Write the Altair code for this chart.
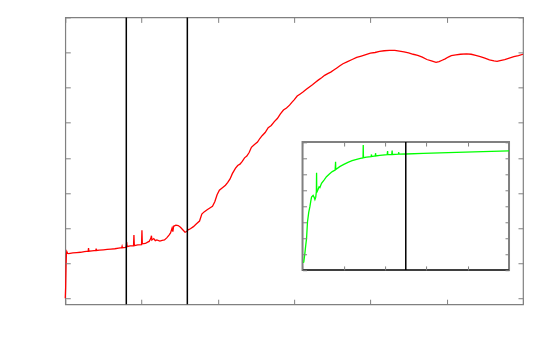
import altair as alt
import pandas as pd

# ---- main series (red) ----
main_x = [0.000, 0.005, 0.010, 0.015, 0.020, 0.030, 0.045, 0.10, 0.15, 0.20, 0.25, 0.30, 0.305, 0.31,
          0.35, 0.40, 0.405, 0.41, 0.45, 0.50, 0.55, 0.60, 0.65, 0.70, 0.74, 0.745, 0.75, 0.79, 0.80,
          0.805, 0.81, 0.85, 0.895, 0.90, 0.905, 0.95, 1.00, 1.005, 1.01, 1.05, 1.08, 1.10, 1.12, 1.13,
          1.135, 1.16, 1.18, 1.20, 1.24, 1.27, 1.30, 1.33, 1.36, 1.38, 1.40, 1.41, 1.42, 1.45, 1.48,
          1.51, 1.54, 1.57, 1.59, 1.61, 1.64, 1.68, 1.72, 1.76, 1.79, 1.82, 1.86, 1.90, 1.93, 1.96,
          1.99, 2.02, 2.06, 2.10, 2.13, 2.16, 2.19, 2.23, 2.26, 2.29, 2.32, 2.35, 2.38, 2.41, 2.44,
          2.48, 2.52, 2.55, 2.58, 2.62, 2.66, 2.70, 2.74, 2.78, 2.82, 2.86, 2.90, 2.94, 2.97, 3.00,
          3.04, 3.08, 3.12, 3.16, 3.20, 3.24, 3.28, 3.32, 3.36, 3.40, 3.44, 3.48, 3.52, 3.56, 3.60,
          3.64, 3.70, 3.76, 3.82, 3.88, 3.94, 4.00, 4.06, 4.12, 4.18, 4.25, 4.32, 4.38, 4.44, 4.50,
          4.56, 4.62, 4.68, 4.74, 4.80, 4.86, 4.90, 4.94, 4.98, 5.02, 5.06, 5.12, 5.18, 5.26, 5.32,
          5.38, 5.44, 5.50, 5.56, 5.62, 5.66, 5.70, 5.76, 5.82, 5.88, 5.94, 6.00]
main_y = [0.00, 0.30, 0.90, 1.25, 1.33, 1.28, 1.27, 1.29, 1.30, 1.31, 1.33, 1.34, 1.43, 1.34,
          1.35, 1.36, 1.41, 1.36, 1.37, 1.38, 1.39, 1.40, 1.41, 1.43, 1.44, 1.48, 1.44, 1.45, 1.47,
          1.60, 1.47, 1.49, 1.50, 1.80, 1.50, 1.52, 1.53, 1.94, 1.55, 1.56, 1.60, 1.62, 1.70, 1.78,
          1.66, 1.70, 1.64, 1.66, 1.63, 1.65, 1.66, 1.72, 1.80, 1.86, 2.00, 1.90, 2.05, 2.08, 2.07,
          2.02, 1.95, 1.88, 1.90, 1.95, 1.98, 2.04, 2.12, 2.20, 2.40, 2.46, 2.52, 2.58, 2.62, 2.75,
          2.95, 3.08, 3.15, 3.22, 3.30, 3.40, 3.55, 3.70, 3.78, 3.82, 3.90, 4.00, 4.05, 4.15, 4.30,
          4.38, 4.45, 4.55, 4.63, 4.72, 4.86, 4.92, 5.03, 5.12, 5.25, 5.36, 5.42, 5.50, 5.58, 5.65,
          5.76, 5.82, 5.88, 5.95, 6.02, 6.08, 6.15, 6.22, 6.28, 6.35, 6.40, 6.44, 6.50, 6.56, 6.62,
          6.68, 6.74, 6.80, 6.86, 6.90, 6.94, 6.98, 7.00, 7.03, 7.05, 7.06, 7.06, 7.04, 7.02, 6.99,
          6.95, 6.92, 6.87, 6.80, 6.76, 6.72, 6.74, 6.78, 6.82, 6.87, 6.91, 6.93, 6.95, 6.96, 6.95,
          6.92, 6.88, 6.84, 6.79, 6.76, 6.75, 6.77, 6.80, 6.84, 6.88, 6.91, 6.95]
main_vlines = [0.8, 1.6]
main_xticks = [0, 1, 2, 3, 4, 5, 6]
main_yticks = [0, 1, 2, 3, 4, 5, 6, 7, 8]
main_ydomain = [-0.17, 8]

# ---- inset series (green) ----
inset_x = [0.02, 0.03, 0.056, 0.08, 0.097, 0.12, 0.15, 0.177, 0.20, 0.218, 0.257, 0.28, 0.30, 0.32,
           0.335, 0.34, 0.345, 0.378, 0.40, 0.42, 0.46, 0.52, 0.58, 0.65, 0.72, 0.79, 0.80, 0.805,
           0.90, 1.00, 1.10, 1.20, 1.31, 1.40, 1.465, 1.47, 1.475, 1.55, 1.66, 1.67, 1.675, 1.76,
           1.77, 1.775, 1.87, 2.05, 2.06, 2.065, 2.16, 2.17, 2.175, 2.32, 2.33, 2.335, 2.50, 2.92,
           3.73, 5.00]
inset_y = [0.45, 0.50, 1.02, 1.60, 1.96, 3.00, 3.60, 3.94, 4.30, 4.56, 4.67, 4.55, 4.40, 4.55,
           4.90, 6.08, 4.85, 5.05, 5.20, 5.15, 5.42, 5.62, 5.83, 6.00, 6.15, 6.25, 6.77, 6.28,
           6.46, 6.60, 6.73, 6.83, 6.92, 6.98, 7.00, 7.81, 7.02, 7.06, 7.09, 7.22, 7.09, 7.13,
           7.30, 7.13, 7.17, 7.21, 7.44, 7.21, 7.22, 7.46, 7.22, 7.24, 7.36, 7.24, 7.25, 7.29,
           7.35, 7.44]
inset_vline = [2.5]
inset_xticks = [0, 1, 2, 3, 4, 5]
inset_yticks = [0, 1, 2, 3, 4, 5, 6, 7, 8]

# ---- layout constants ----
W, H = 458, 287
IX0, IX1 = 237.4, 444.0      # inset horizontal pixel range within plot
IY0, IY1 = 252.7, 124.7      # inset vertical pixel range (bottom, top)
GRAY = "#808080"
TK_MAIN = 5
TK_IN = 4

main_df = pd.DataFrame({"x": main_x, "y": main_y})
vline_df = pd.DataFrame({"x": main_vlines})
inset_df = pd.DataFrame({"x": inset_x, "y": inset_y})
frame_df = pd.DataFrame({"x0": [inset_xticks[0]], "x1": [inset_xticks[-1]],
                         "y0": [inset_yticks[0]], "y1": [inset_yticks[-1]]})
ivline_df = pd.DataFrame({"x": inset_vline, "y0": [inset_yticks[0]], "y1": [inset_yticks[-1]]})

mxs = alt.Scale(domain=[main_xticks[0], main_xticks[-1]], nice=False, zero=False)
mys = alt.Scale(domain=main_ydomain, nice=False, zero=False)
ixs = alt.Scale(domain=[inset_xticks[0], inset_xticks[-1]], range=[IX0, IX1], nice=False, zero=False)
iys = alt.Scale(domain=[inset_yticks[0], inset_yticks[-1]], range=[IY0, IY1], nice=False, zero=False)


def ax(orient, values, offset, size):
    return alt.Axis(orient=orient, values=values, labels=False, domain=False, grid=False,
                    ticks=True, tickSize=size, tickColor=GRAY, tickWidth=1, offset=offset,
                    title=None, zindex=2)


red = alt.Chart(main_df).mark_line(color="#ff0000", strokeWidth=1.3, interpolate="linear").encode(
    x=alt.X("x:Q", scale=mxs, axis=ax("bottom", main_xticks, -TK_MAIN, TK_MAIN)),
    y=alt.Y("y:Q", scale=mys, axis=ax("left", main_yticks, -TK_MAIN, TK_MAIN)),
)
mirror = alt.Chart(main_df).mark_line(opacity=0).encode(
    x=alt.X("x:Q", scale=mxs, axis=ax("top", main_xticks, -TK_MAIN, TK_MAIN)),
    y=alt.Y("y:Q", scale=mys, axis=ax("right", main_yticks, -TK_MAIN, TK_MAIN)),
)
vlines = alt.Chart(vline_df).mark_rule(color="black", strokeWidth=1.5).encode(
    x=alt.X("x:Q", scale=mxs, axis=None),
)

frame = alt.Chart(frame_df).mark_rect(fill="white", stroke=GRAY, strokeWidth=2).encode(
    x=alt.X("x0:Q", scale=ixs, axis=ax("bottom", inset_xticks, -(H - IY0) - TK_IN, TK_IN)),
    x2="x1:Q",
    y=alt.Y("y0:Q", scale=iys, axis=ax("left", inset_yticks, -(IX0 + TK_IN), TK_IN)),
    y2="y1:Q",
)
bottom_edge = alt.Chart(frame_df).mark_rule(color="#2a2a2a", strokeWidth=1.6).encode(
    x=alt.X("x0:Q", scale=ixs, axis=None),
    x2="x1:Q",
    y=alt.Y("y0:Q", scale=iys, axis=None),
)
green = alt.Chart(inset_df).mark_line(color="#00ff00", strokeWidth=1.3).encode(
    x=alt.X("x:Q", scale=ixs, axis=ax("top", inset_xticks, -(IY1 + TK_IN), TK_IN)),
    y=alt.Y("y:Q", scale=iys, axis=ax("right", inset_yticks, -(W - IX1) - TK_IN, TK_IN)),
)
ivline = alt.Chart(ivline_df).mark_rule(color="black", strokeWidth=1.5).encode(
    x=alt.X("x:Q", scale=ixs, axis=None),
    y=alt.Y("y0:Q", scale=iys, axis=None),
    y2="y1:Q",
)

chart = alt.layer(red, mirror, vlines, frame, bottom_edge, green, ivline).resolve_scale(
    x="independent", y="independent"
).properties(
    width=W, height=H,
    autosize=alt.AutoSizeParams(type="none"),
    padding={"left": 57.3, "top": 9.3, "right": 19, "bottom": 42},
    background="white",
).configure_view(stroke=GRAY, strokeWidth=1.2)

chart.save("out.html", embed_options={"renderer": "svg", "actions": False})
